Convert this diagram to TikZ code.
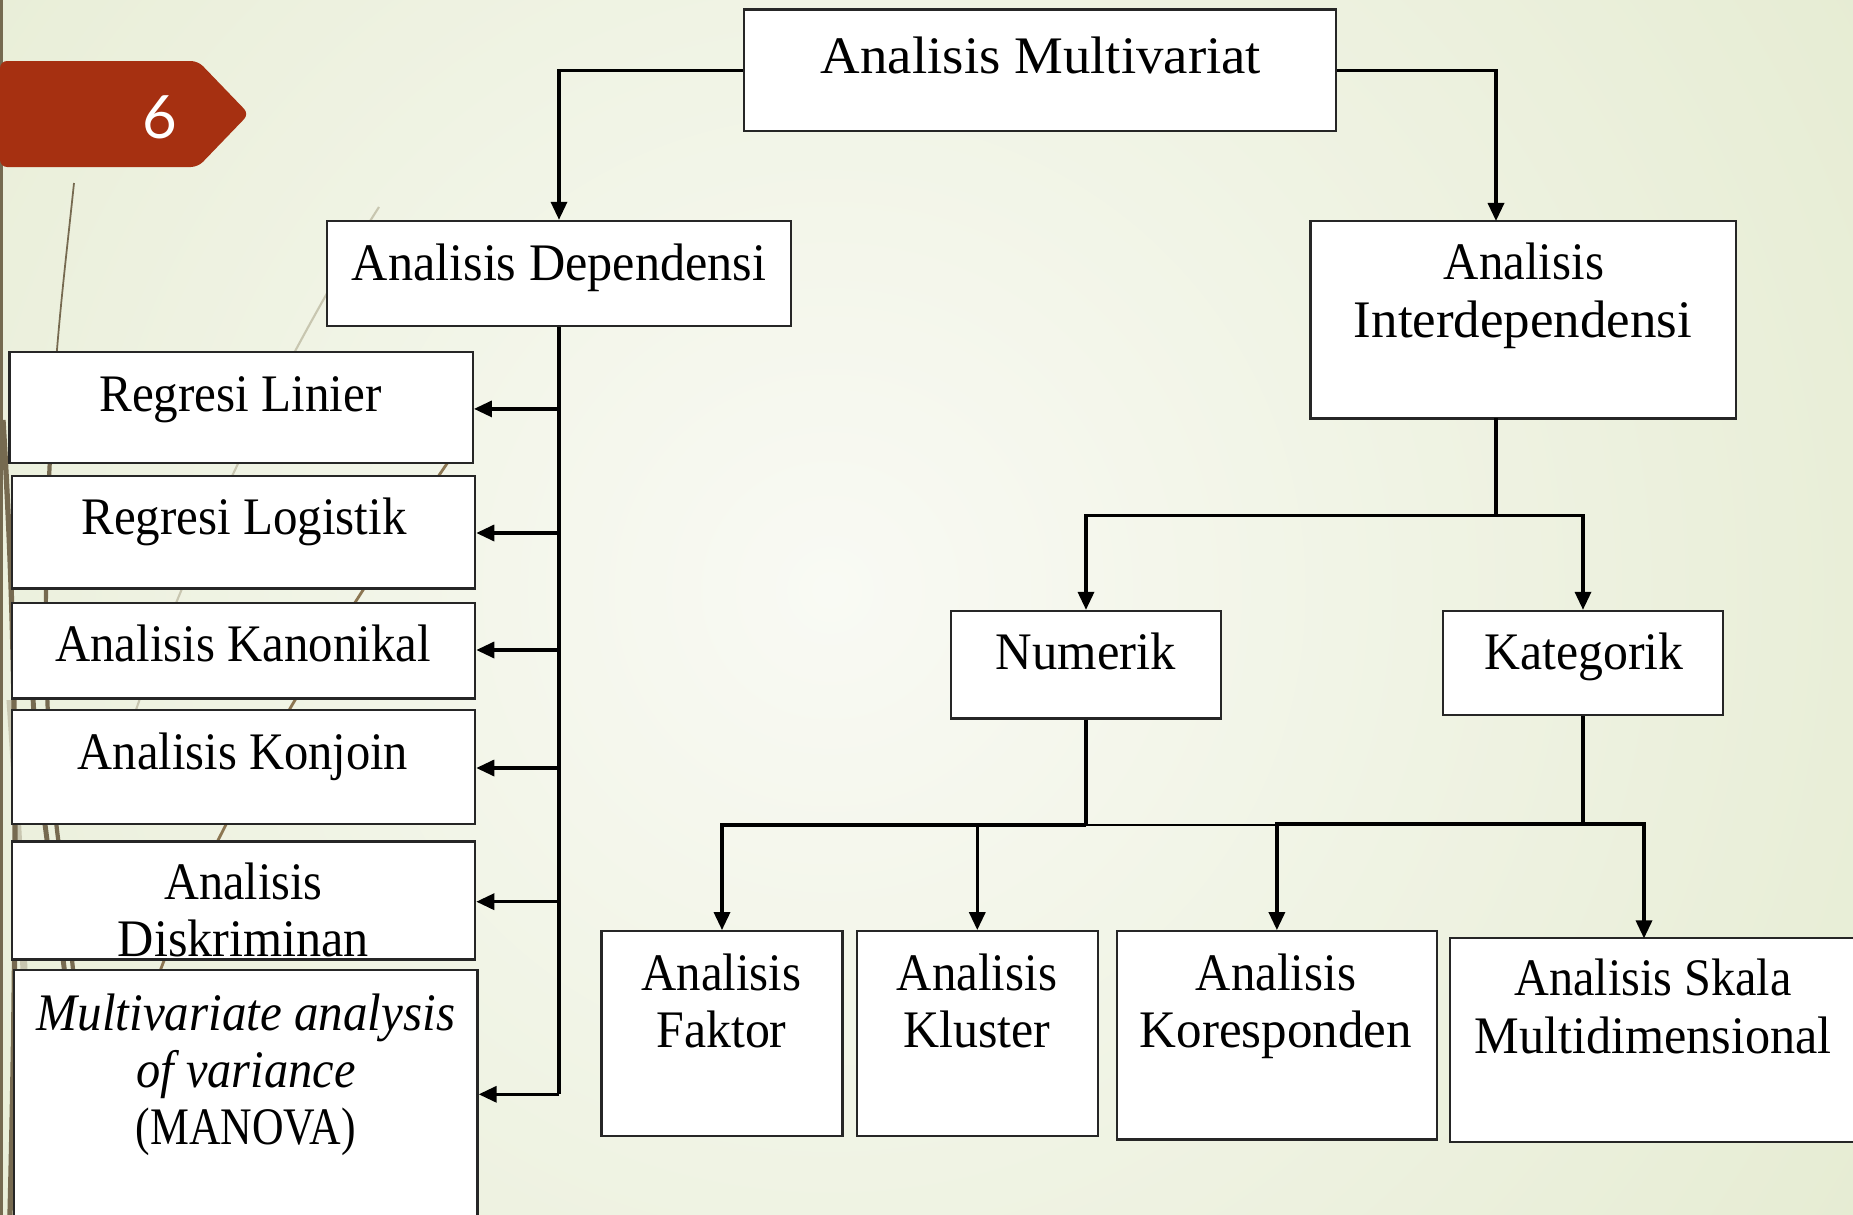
\documentclass[tikz,border=0pt]{standalone}
\usepackage{fontspec}
\setmainfont{Liberation Serif}
\newfontfamily\tagfont{Lato}
\usetikzlibrary{arrows.meta}
\newcommand\fw[2]{\resizebox{#1}{\height}{#2}}
\definecolor{bgout}{RGB}{219,228,192}
\definecolor{bgin}{RGB}{249,250,244}
\definecolor{tagred}{RGB}{166,48,17}
\definecolor{stripe}{RGB}{117,106,80}
\definecolor{stalkdark}{RGB}{118,106,80}
\definecolor{stalkbrown}{RGB}{140,118,82}
\definecolor{stalklight}{RGB}{200,198,176}
\begin{document}
\begin{tikzpicture}[x=0.01cm,y=-0.01cm,
  box/.style={draw=black!85, line width=0.65pt, fill=white, inner sep=0pt},
  txt/.style={inner sep=0pt, anchor=base, font=\fontsize{15}{16}\selectfont},
  conn/.style={line width=0.95pt, -{Triangle[length=0.18cm,width=0.16cm]}},
  link/.style={line width=0.95pt}]
\clip (0,0) rectangle (1853,1215);
% background
\fill[bgout] (0,0) rectangle (1853,1215);
\shade[inner color=bgin, outer color=bgout] (830,590) circle (1900);
% stalks
\draw[stalklight, line width=0.6pt] (379,207) .. controls (300,330) and (180,560) .. (120,760);
\draw[stalkbrown, line width=0.8pt] (470,430) .. controls (360,590) and (200,830) .. (140,1030);
\draw[stalkdark, line width=0.5pt] (74,183) .. controls (66,260) and (58,320) .. (52,420);
\draw[stalkdark, line width=1.2pt] (52,420) .. controls (44,560) and (42,700) .. (57,830) .. controls (72,950) and (85,1080) .. (95,1215);
\draw[stalkdark, line width=1.4pt] (32,640) .. controls (30,800) and (70,930) .. (88,1215);
\draw[stalklight, line width=2pt] (10,700) .. controls (20,850) and (25,950) .. (30,1215);
\draw[stalkdark, line width=1.5pt] (3,420) .. controls (14,600) and (20,800) .. (10,1215);
% left stripe and page tag
\fill[stripe] (0,0) rectangle (3,1215);
\fill[tagred, rounded corners=2pt] (0,61) -- (198,61) -- (249,114) -- (198,167) -- (0,167) -- cycle;
\node[text=white, inner sep=0pt, anchor=base, font=\tagfont\fontsize{17}{17}\selectfont] (pg) at (159.5,138) {6};
% boxes
\node[box, minimum width=5.91cm, minimum height=1.217cm] (mv) at (1040,70.4) {};
\node[box, minimum width=4.632cm, minimum height=1.052cm] (dep) at (559,273.6) {};
\node[box, minimum width=4.254cm, minimum height=1.974cm] (inter) at (1523.3,319.7) {};
\node[box, minimum width=2.695cm, minimum height=1.075cm] (num) at (1086,664.8) {};
\node[box, minimum width=2.80cm, minimum height=1.04cm] (kat) at (1583,663) {};
\node[box, minimum width=2.411cm, minimum height=2.044cm] (fak) at (722,1033.5) {};
\node[box, minimum width=2.411cm, minimum height=2.044cm] (klu) at (977.3,1033.5) {};
\node[box, minimum width=3.202cm, minimum height=2.08cm] (kor) at (1276.9,1035.3) {};
\node[box, minimum width=4.20cm, minimum height=2.032cm] (ska) at (1660,1040) {};
\node[box, minimum width=4.632cm, minimum height=1.111cm] (rl) at (241.1,407.75) {};
\node[box, minimum width=4.632cm, minimum height=1.122cm] (rlog) at (243.4,532.4) {};
\node[box, minimum width=4.632cm, minimum height=0.957cm] (kan) at (243.4,650.55) {};
\node[box, minimum width=4.632cm, minimum height=1.134cm] (kon) at (243.4,767) {};
\node[box, minimum width=4.632cm, minimum height=1.182cm] (dis) at (243.4,900.5) {};
\node[box, minimum width=4.632cm, minimum height=2.70cm] (man) at (245.8,1105) {};
% texts
\node[txt] (mvT) at (1041,73) {\fw{4.40cm}{Analisis Multivariat}};
\node[txt] (depT) at (559,280) {\fw{4.14cm}{Analisis Dependensi}};
\node[txt] (interT1) at (1524,279) {\fw{1.60cm}{Analisis}};
\node[txt] (interT2) at (1523,337) {\fw{3.38cm}{Interdependensi}};
\node[txt] (numT) at (1086,669) {\fw{1.80cm}{Numerik}};
\node[txt] (katT) at (1584,669) {\fw{1.99cm}{Kategorik}};
\node[txt] (fakT1) at (721.5,990) {\fw{1.60cm}{Analisis}};
\node[txt] (fakT2) at (721.5,1047) {\fw{1.30cm}{Faktor}};
\node[txt] (kluT1) at (977,990) {\fw{1.60cm}{Analisis}};
\node[txt] (kluT2) at (977,1047) {\fw{1.47cm}{Kluster}};
\node[txt] (korT1) at (1276,990) {\fw{1.60cm}{Analisis}};
\node[txt] (korT2) at (1276,1047) {\fw{2.72cm}{Koresponden}};
\node[txt] (skaT1) at (1653,995) {\fw{2.77cm}{Analisis Skala}};
\node[txt] (skaT2) at (1653,1053) {\fw{3.57cm}{Multidimensional}};
\node[txt] (rlT) at (240.5,411) {\fw{2.82cm}{Regresi Linier}};
\node[txt] (rlogT) at (244,534) {\fw{3.25cm}{Regresi Logistik}};
\node[txt] (kanT) at (243,661) {\fw{3.75cm}{Analisis Kanonikal}};
\node[txt] (konT) at (243,769) {\fw{3.30cm}{Analisis Konjoin}};
\node[txt] (disT1) at (243.5,899) {\fw{1.58cm}{Analisis}};
\node[txt] (disT2) at (243.5,956) {\fw{2.51cm}{Diskriminan}};
\node[txt] (manT1) at (246,1030.5) {\fw{4.18cm}{\itshape Multivariate analysis}};
\node[txt] (manT2) at (246,1087) {\fw{2.19cm}{\itshape of variance}};
\node[txt] (manT3) at (246,1144) {\fw{2.20cm}{(MANOVA)}};
% connectors
\coordinate (interN) at (1496,221);
\draw[conn] (mv.west) -| (dep.north);
\draw[conn] (mv.east) -| (interN);
\coordinate (interS) at (1496,418.4);
\coordinate (h1) at (1496,515.3);
\draw[link] (interS) -- (h1);
\draw[conn] (h1) -| (num.north);
\draw[conn] (h1) -| (kat.north);
\coordinate (h2) at (1086,825);
\draw[link] (num.south) -- (h2);
\draw[conn] (h2) -| (fak.north);
\draw[conn] (h2) -| (klu.north);
\draw[line width=0.6pt] (h2) -- (h2 -| kor.north);
\coordinate (h3) at (1583,824);
\coordinate (skaN) at (1644,938.4);
\draw[link] (kat.south) -- (h3);
\draw[conn] (h3) -| (kor.north);
\draw[conn] (h3) -| (skaN);
% dependency spine
\coordinate (j6) at (559,1094.3);
\draw[line width=1.2pt] (dep.south) -- (j6);
\coordinate (j1) at (559,408.9);
\coordinate (j2) at (559,533);
\coordinate (j3) at (559,650);
\coordinate (j4) at (559,768);
\coordinate (j5) at (559,901.7);
\draw[conn] (j1) -- (j1 -| rl.east);
\draw[conn] (j2) -- (j2 -| rlog.east);
\draw[conn] (j3) -- (j3 -| kan.east);
\draw[conn] (j4) -- (j4 -| kon.east);
\draw[conn] (j5) -- (j5 -| dis.east);
\draw[conn] (j6) -- (j6 -| man.east);
\end{tikzpicture}
\end{document}
